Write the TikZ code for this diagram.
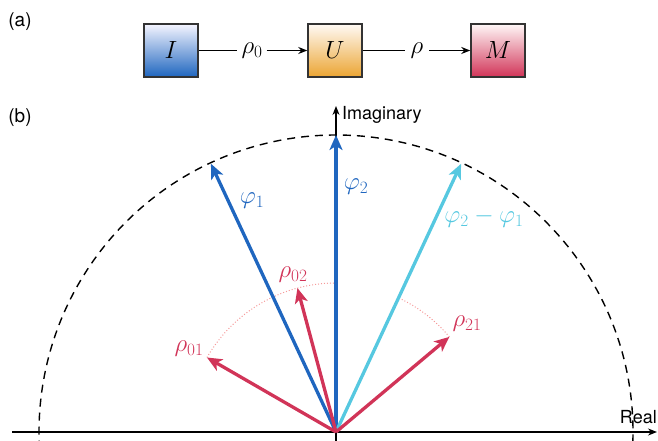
\documentclass[tikz,border=0pt]{standalone}
\usepackage{fontspec}
\setmainfont{TeX Gyre Heros}
\usetikzlibrary{arrows.meta,calc}
\definecolor{phiblue}{HTML}{1F66BF}
\definecolor{phicyan}{HTML}{56C8E0}
\definecolor{rhored}{HTML}{D13458}
\definecolor{dotpink}{HTML}{F59A9A}
\definecolor{boxline}{HTML}{333333}
\definecolor{boxorange}{HTML}{EBA533}
\tikzset{
  panel/.style={font=\fontsize{19}{22}\selectfont},
  axis/.style={line width=1.4pt,-{Stealth[length=9pt,width=7pt]}},
  vec/.style={line width=3.3pt,-{Stealth[length=15pt,width=13pt,inset=4pt]}},
  dotarc/.style={dotpink,line width=1pt,dotted},
  mlab/.style={font=\fontsize{24}{28}\selectfont,inner sep=1pt},
  alab/.style={font=\fontsize{18}{21}\selectfont,inner sep=1pt},
  gbox/.style={draw=boxline,line width=1.5pt,minimum width=54pt,minimum height=53pt,
    font=\fontsize{23}{27}\selectfont},
  flow/.style={line width=1.4pt,-{Stealth[length=9pt,width=7pt]}},
}
\begin{document}
\begin{tikzpicture}[x=1pt,y=1pt]
\useasboundingbox (0,0) rectangle (658,441);
% panel (a)
\node[panel] (la) at (20,419) {(a)};
\node[gbox,top color=blue!4!white,bottom color=phiblue] (I) at (171,390.5) {$I$};
\node[gbox,top color=orange!4!white,bottom color=boxorange] (U) at (335,390.5) {$U$};
\node[gbox,top color=red!3!white,bottom color=rhored] (M) at (498,390.5) {$M$};
\node[mlab,fill=white,inner sep=4pt] (r0) at (252,390.5) {$\rho_0$};
\node[mlab,fill=white,inner sep=6pt] (r) at (417,390.5) {$\rho$};
\draw[line width=1.4pt] (I) -- (r0);
\draw[flow] (r0) -- (U);
\draw[line width=1.4pt] (U) -- (r);
\draw[flow] (r) -- (M);
% panel (b)
\node[panel] (lb) at (20,323) {(b)};
\coordinate (O) at (336,9);
\coordinate (rs) at (12,9);
\coordinate (re) at (657,9);
\coordinate (is) at (336,0);
\coordinate (ie) at (336,335);
\draw[dotarc] ($(O)+(150:149)$) arc[start angle=150,end angle=90,radius=149];
\draw[dotarc] ($(O)+(40:148)$) arc[start angle=40,end angle=65,radius=148];
\draw[line width=1.4pt,dash pattern=on 8pt off 6pt] ($(O)+(-2:297)$) arc[start angle=-2,end angle=182,radius=297];
\draw[axis] (rs) -- (re);
\draw[axis] (is) -- (ie);
\node[alab,anchor=west] (im) at (341,326) {Imaginary};
\node[alab,anchor=south east] (rl) at (658,16) {Real};
\coordinate (p1) at ($(O)+(115:296)$);
\coordinate (p2) at ($(O)+(90:297)$);
\coordinate (p21) at ($(O)+(65:296)$);
\coordinate (q01) at ($(O)+(150:149)$);
\coordinate (q02) at ($(O)+(105:149)$);
\coordinate (q21) at ($(O)+(40:148)$);
\draw[vec,phiblue] (O) -- (p1);
\draw[vec,phiblue] (O) -- (p2);
\draw[vec,phicyan] (O) -- (p21);
\draw[vec,rhored] (O) -- (q01);
\draw[vec,rhored] (O) -- (q02);
\draw[vec,rhored] (O) -- (q21);
\node[mlab,phiblue] (lp1) at (252,240) {$\varphi_1$};
\node[mlab,phiblue] (lp2) at (356,254) {$\varphi_2$};
\node[mlab,phicyan] (lp21) at (484,223) {$\varphi_2-\varphi_1$};
\node[mlab,rhored] (lq02) at (293,166) {$\rho_{02}$};
\node[mlab,rhored] (lq01) at (189,92) {$\rho_{01}$};
\node[mlab,rhored] (lq21) at (467,117) {$\rho_{21}$};
\end{tikzpicture}
\end{document}
